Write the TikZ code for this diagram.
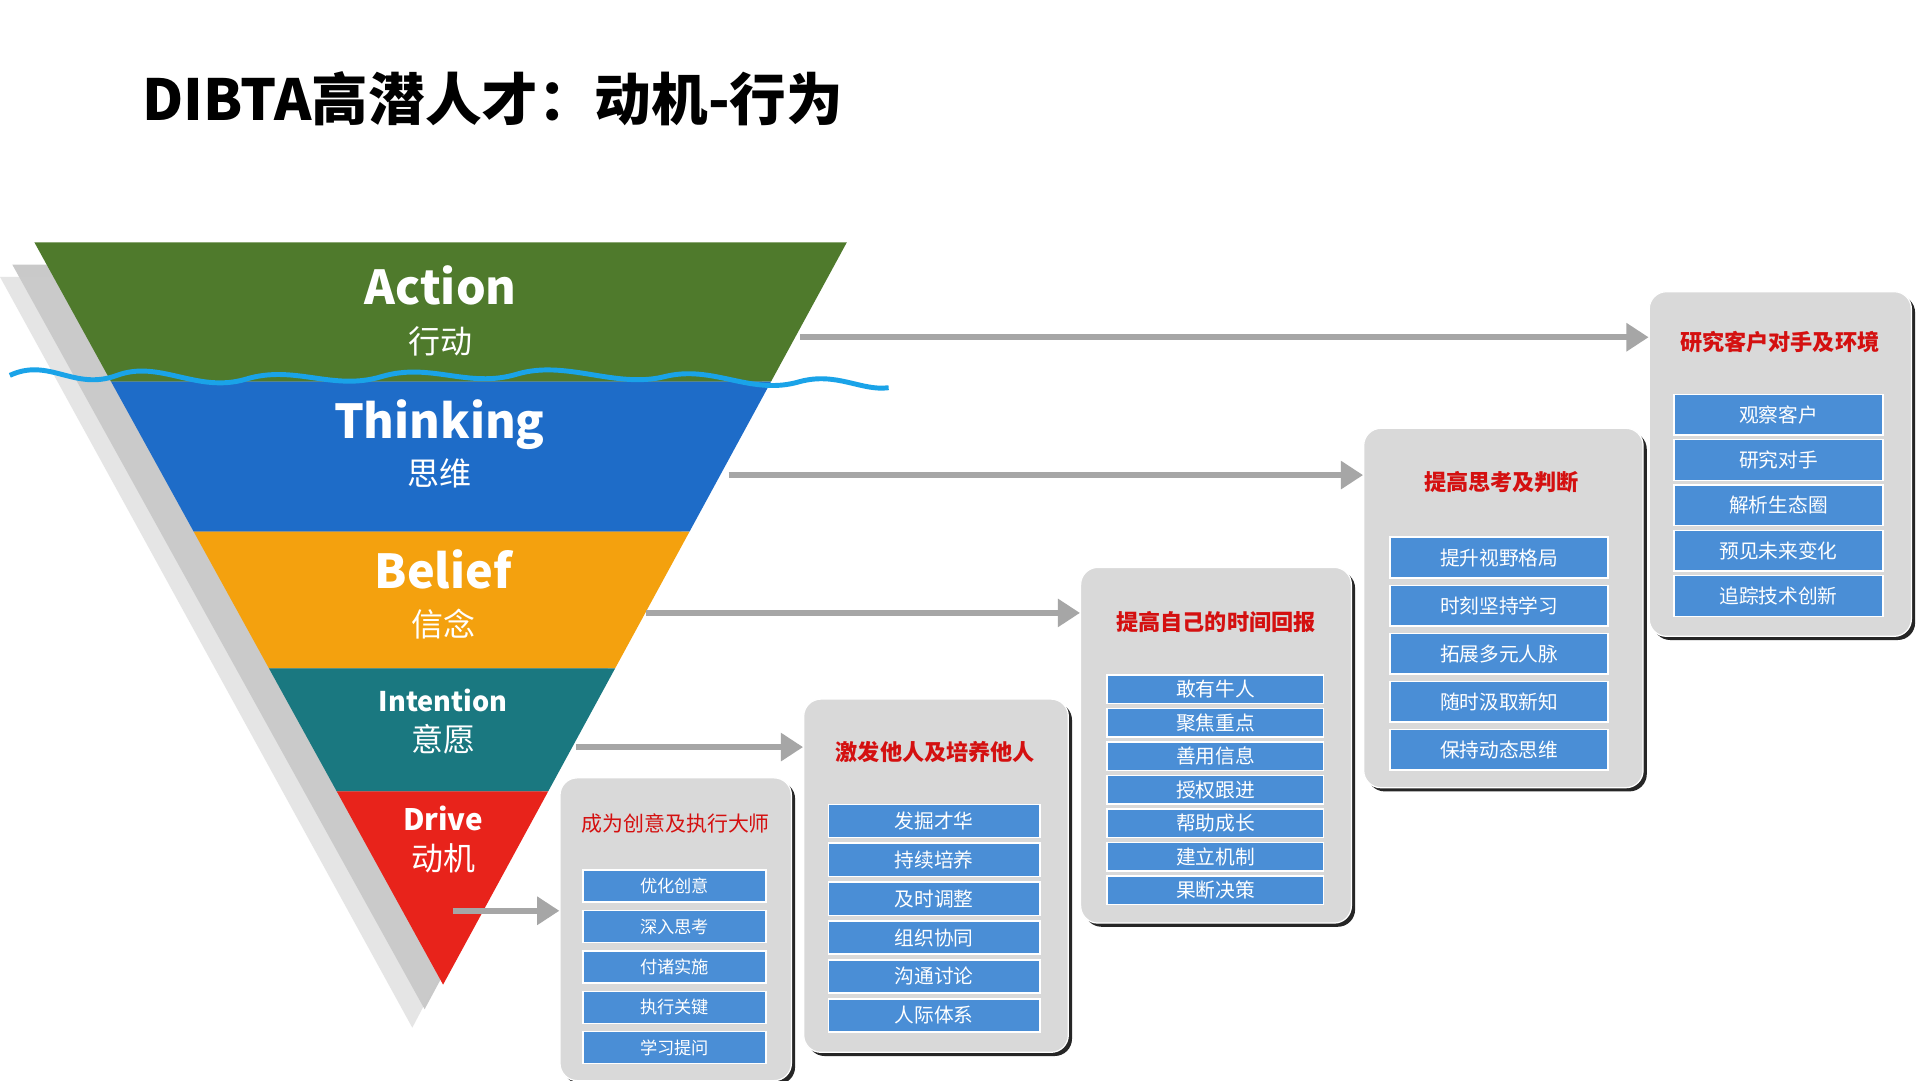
\documentclass[tikz,border=0pt]{standalone}
\usepackage{fontspec}
\setmainfont{Noto Sans CJK SC}
\usetikzlibrary{arrows.meta,shadows}
\definecolor{cgreen}{HTML}{4F7A2C}
\definecolor{cblue}{HTML}{1E6CC8}
\definecolor{corange}{HTML}{F4A10E}
\definecolor{cteal}{HTML}{1A7880}
\definecolor{cred}{HTML}{E8231B}
\definecolor{citem}{HTML}{4A8ED6}
\definecolor{cbox}{HTML}{D9D9D9}
\definecolor{carrow}{HTML}{A6A6A6}
\definecolor{cwave}{HTML}{1AA3E8}
\definecolor{ctitle}{HTML}{D41010}
\tikzset{
 panel/.style={draw=white,line width=1pt,fill=cbox,rounded corners=14pt,
   drop shadow={shadow xshift=3pt,shadow yshift=-3pt,fill=black!85,opacity=1}},
 ptitle/.style={text=ctitle,font=\bfseries\fontsize{18}{20}\selectfont},
 item/.style={fill=citem,draw=white,line width=1.2pt,text=white,font=\fontsize{16}{18}\selectfont,inner sep=0pt},
 garrow/.style={draw=carrow,line width=5pt,-{Triangle[length=18pt,width=22pt]}},
 big/.style={text=white,font=\bfseries\fontsize{38}{40}\selectfont},
 small/.style={text=white,font=\fontsize{26}{28}\selectfont}
}
\begin{document}
\begin{tikzpicture}[x=1pt,y=-1pt]
\useasboundingbox[fill=white] (0,0) rectangle (1560,878);
\node[anchor=west,font=\bfseries\fontsize{46}{50}\selectfont] (title) at (112,80) {DIBTA高潜人才：动机-行为};
% shadow of triangle
\fill[black!35,opacity=0.6] (10,215) -- (670,215) -- (345,820) -- cycle;
\fill[black!20,opacity=0.5] (0,225) -- (655,225) -- (335,835) -- cycle;
% bands
\fill[cgreen] (28,197) -- (688,197) -- (626.5,310) -- (90.2,310) -- cycle;
\fill[cblue] (90.2,310) -- (626.5,310) -- (560.2,432) -- (157.4,432) -- cycle;
\fill[corange] (157.4,432) -- (560.2,432) -- (499.8,543) -- (218.5,543) -- cycle;
\fill[cteal] (218.5,543) -- (499.8,543) -- (445.4,643) -- (273.6,643) -- cycle;
\fill[cred] (273.6,643) -- (445.4,643) -- (360,800) -- cycle;
% wave
\draw[cwave,line width=4pt] (8,305) .. controls (40,290) and (60,318) .. (95,305)
 .. controls (130,292) and (160,320) .. (200,308) .. controls (240,296) and (270,318) .. (310,306)
 .. controls (350,294) and (380,316) .. (420,304) .. controls (460,292) and (500,316) .. (540,306)
 .. controls (580,296) and (610,322) .. (650,310) .. controls (680,302) and (700,318) .. (722,315);
% labels
\node[big] (act) at (358,232) {Action};
\node[small] (actc) at (358,277) {行动};
\node[big] (thi) at (357,345) {Thinking};
\node[small] (thic) at (357,385) {思维};
\node[big] (bel) at (360,463) {Belief};
\node[small] (belc) at (360,507) {信念};
\node[text=white,font=\bfseries\fontsize{22}{24}\selectfont] (int) at (360,569) {Intention};
\node[small] (intc) at (360,601) {意愿};
\node[text=white,font=\bfseries\fontsize{24}{26}\selectfont] (dri) at (360,665) {Drive};
\node[small] (dric) at (360,697) {动机};
% panels
\node[panel,minimum width=188pt,minimum height=246pt] (b1) at (549,755) {};
\node[panel,minimum width=215pt,minimum height=287pt] (b2) at (760.5,711.5) {};
\node[panel,minimum width=220pt,minimum height=289pt] (b3) at (988,605.5) {};
\node[panel,minimum width=227pt,minimum height=292pt] (b4) at (1221.5,494) {};
\node[panel,minimum width=213pt,minimum height=280pt] (b5) at (1446.5,377) {};
\node[ptitle,font=\fontsize{17}{19}\selectfont] (t1) at (549,669) {成为创意及执行大师};
\node[ptitle] (t2) at (760,611) {激发他人及培养他人};
\node[ptitle] (t3) at (988,505) {提高自己的时间回报};
\node[ptitle] (t4) at (1220,392) {提高思考及判断};
\node[ptitle] (t5) at (1446,278) {研究客户对手及环境};
% items
\foreach \t [count=\i] in {优化创意,深入思考,付诸实施,执行关键,学习提问}
  \node[item,minimum width=149pt,minimum height=26pt,font=\fontsize{14}{16}\selectfont] (i1-\i) at (548,{720+(\i-1)*32.8}) {\t};
\foreach \t [count=\i] in {发掘才华,持续培养,及时调整,组织协同,沟通讨论,人际体系}
  \node[item,minimum width=172pt,minimum height=27pt] (i2-\i) at (759,{667+(\i-1)*31.6}) {\t};
\foreach \t [count=\i] in {敢有牛人,聚焦重点,善用信息,授权跟进,帮助成长,建立机制,果断决策}
  \node[item,minimum width=176pt,minimum height=23pt] (i3-\i) at (987.5,{560+(\i-1)*27.2}) {\t};
\foreach \t [count=\i] in {提升视野格局,时刻坚持学习,拓展多元人脉,随时汲取新知,保持动态思维}
  \node[item,minimum width=177pt,minimum height=33pt] (i4-\i) at (1218,{453+(\i-1)*39}) {\t};
\foreach \t [count=\i] in {观察客户,研究对手,解析生态圈,预见未来变化,追踪技术创新}
  \node[item,minimum width=170pt,minimum height=33pt] (i5-\i) at (1445,{337+(\i-1)*36.8}) {\t};
% arrows
\coordinate (a1) at (650,274);
\coordinate (a2) at (592,386);
\coordinate (a3) at (525,498);
\coordinate (a4) at (468,607);
\coordinate (a5) at (368,740);
\draw[garrow] (a1) -- (a1 -| b5.west);
\draw[garrow] (a2) -- (a2 -| b4.west);
\draw[garrow] (a3) -- (a3 -| b3.west);
\draw[garrow] (a4) -- (a4 -| b2.west);
\draw[garrow] (a5) -- (a5 -| b1.west);
\end{tikzpicture}
\end{document}
